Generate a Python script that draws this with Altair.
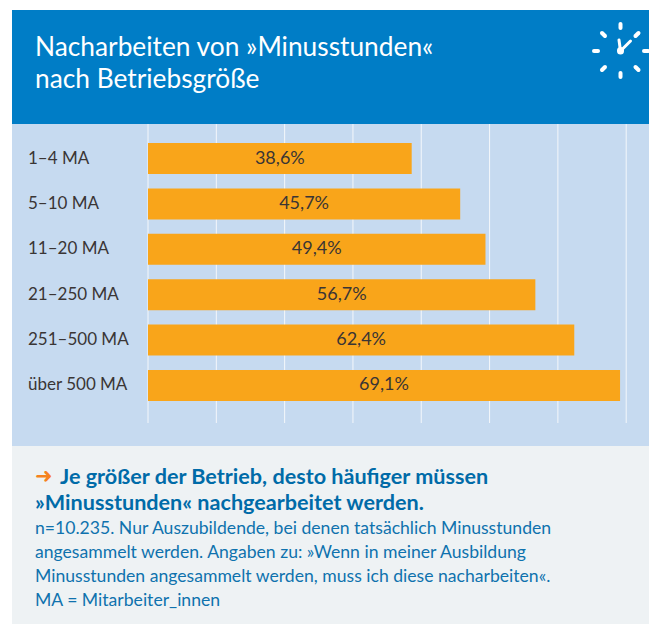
import altair as alt
import pandas as pd

categories = ["1–4 MA", "5–10 MA", "11–20 MA", "21–250 MA", "251–500 MA", "über 500 MA"]
values = [38.6, 45.7, 49.4, 56.7, 62.4, 69.1]
grid_values = [0, 10, 20, 30, 40, 50, 60, 70]
title_lines = ["Nacharbeiten von »Minusstunden«", "nach Betriebsgröße"]
head_lines = ["Je größer der Betrieb, desto häufiger müssen", "»Minusstunden« nachgearbeitet werden."]
note_lines = [
    "n=10.235. Nur Auszubildende, bei denen tatsächlich Minusstunden",
    "angesammelt werden. Angaben zu: »Wenn in meiner Ausbildung",
    "Minusstunden angesammelt werden, muss ich diese nacharbeiten«.",
    "MA = Mitarbeiter_innen",
]

FONT = "Lato"
BLUE = "#007DC6"
TEXTBLUE = "#0F72AE"
one = pd.DataFrame({"a": [0]})
OX, OY = 8, 8


def box(x0, y0, x1, y1, color):
    return alt.Chart(one).mark_rect(color=color).encode(
        x=alt.value(x0 - OX), x2=alt.value(x1 - OX), y=alt.value(y0 - OY), y2=alt.value(y1 - OY))


def label(text, x, y, size, color, weight="normal", font=FONT):
    return alt.Chart(one).mark_text(
        align="left", baseline="alphabetic", fontSize=size, color=color, fontWeight=weight, font=font
    ).encode(x=alt.value(x - OX), y=alt.value(y - OY), text=alt.value(text))


def stroke(x0, y0, x1, y1, w=4):
    return alt.Chart(one).mark_rule(color="white", strokeWidth=w, strokeCap="round").encode(
        x=alt.value(x0 - OX), x2=alt.value(x1 - OX), y=alt.value(y0 - OY), y2=alt.value(y1 - OY))


x_scale = alt.Scale(domain=[0, 70], range=[140, 618.2])
y_scale = alt.Scale(domain=categories, range=[135, 393], paddingInner=0.317, paddingOuter=0)

df = pd.DataFrame({
    "cat": categories,
    "val": values,
    "mid": [v / 2 for v in values],
    "txt": [f"{v:.1f}".replace(".", ",") + "%" for v in values],
})

y_enc = alt.Y("cat:N", scale=y_scale, title=None, sort=categories, axis=None)

layers = [
    box(12, 10, 657, 124, BLUE),
    box(12, 124, 657, 446, "#C6DAF0"),
    box(12, 446, 657, 624, "#EEF2F4"),
    alt.Chart(pd.DataFrame({"g": grid_values})).mark_rule(color="#F4F7FB", strokeWidth=1).encode(
        x=alt.X("g:Q", scale=x_scale, axis=None),
        y=alt.value(124 - OY), y2=alt.value(423 - OY)),
    alt.Chart(df).mark_bar(color="#F9A51A").encode(
        x=alt.X("val:Q", scale=x_scale, axis=None),
        x2=alt.datum(0),
        y=y_enc),
    alt.Chart(df).mark_text(font=FONT, fontSize=18, color="#3A3535", baseline="middle").encode(
        x=alt.X("mid:Q", scale=x_scale, axis=None),
        y=y_enc,
        text="txt:N"),
    alt.Chart(df).mark_text(font=FONT, fontSize=17, color="#3A3535", baseline="middle", align="left").encode(
        x=alt.value(28 - OX),
        y=y_enc,
        text="cat:N"),
    label(title_lines[0], 35, 56, 26.3, "white"),
    label(title_lines[1], 35, 88, 26.3, "white"),
    label("➜", 35, 483, 21, "#F58220", "bold", "DejaVu Sans"),
    label(head_lines[0], 60, 484, 21.6, "#006BA8", "bold"),
    label(head_lines[1], 35, 510, 21.6, "#006BA8", "bold"),
]
for i, line in enumerate(note_lines):
    layers.append(label(line, 35, [534, 558, 582, 606][i], 17.6, TEXTBLUE))

for seg in [(620.5, 24, 620.5, 28), (638.5, 33, 635.5, 36), (644, 51, 648, 51), (638.5, 70, 635.5, 67),
            (620.5, 73, 620.5, 77), (602, 70, 605, 67), (594, 51, 598, 51), (602, 33, 605, 36)]:
    layers.append(stroke(*seg, w=4))
layers.append(stroke(620.5, 51, 619, 40, 3))
layers.append(stroke(620.5, 51, 630.5, 41, 3))
layers.append(stroke(620.5, 50.5, 620.5, 51, 7))

chart = alt.layer(*layers).resolve_scale(x="shared", y="shared").properties(
    width=641, height=616, padding=0, background="white",
    autosize=alt.AutoSizeParams(type="none"),
).configure_view(stroke=None)

chart.save("out.html", embed_options={"renderer": "svg", "actions": False})
